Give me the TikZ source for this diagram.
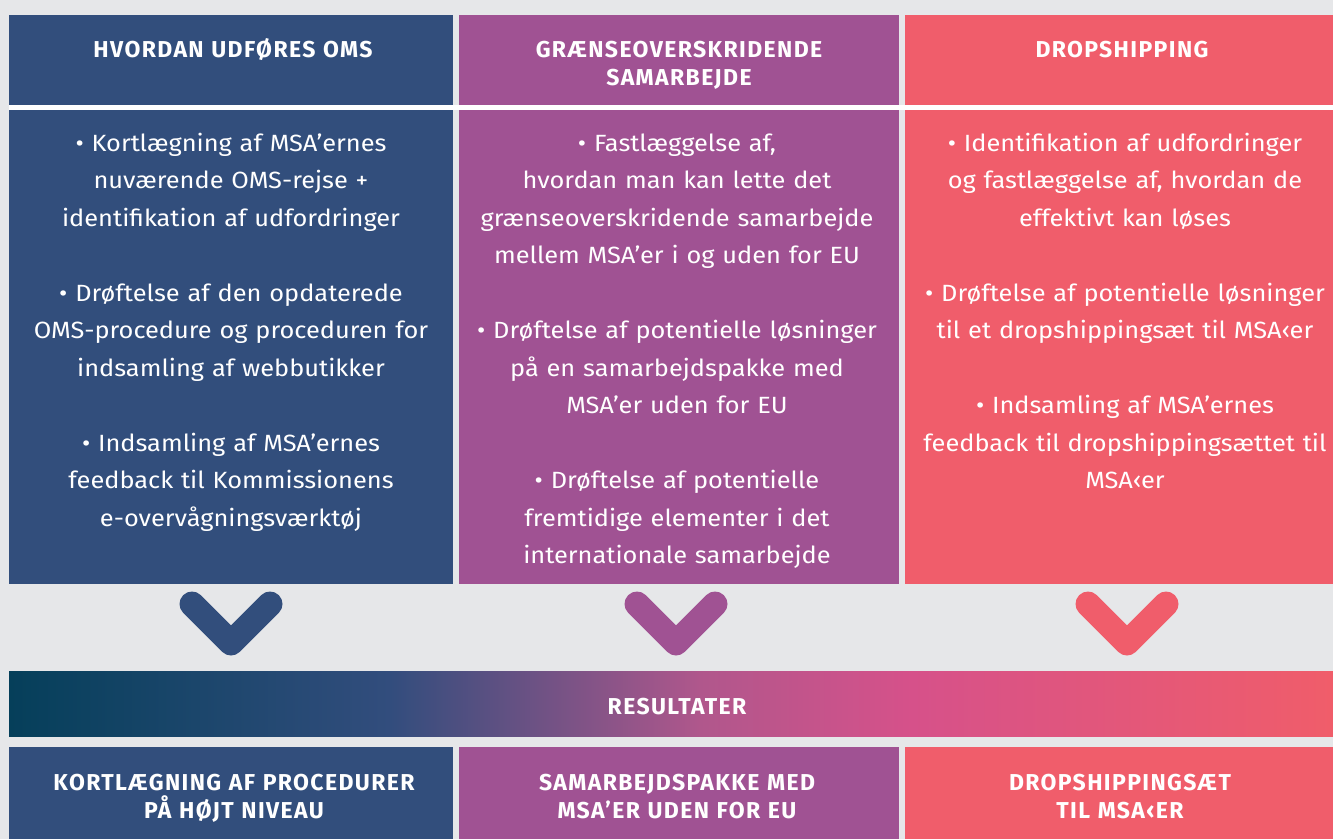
\documentclass[tikz,border=0pt]{standalone}
\usepackage{fontspec}
\setmainfont{Fira Sans}
\definecolor{bg}{HTML}{E6E7E9}
\definecolor{cblue}{HTML}{324E7C}
\definecolor{cpurple}{HTML}{A05293}
\definecolor{ccoral}{HTML}{F05D6B}
\definecolor{ga}{HTML}{053F5A}
\definecolor{gb}{HTML}{324D7D}
\definecolor{gc}{HTML}{B0578C}
\definecolor{gd}{HTML}{D6518A}
\definecolor{ge}{HTML}{F05D6A}
\pgfdeclarehorizontalshading{resgrad}{100bp}{color(0bp)=(ga); color(25bp)=(ga); color(39.39bp)=(gb); color(51.1bp)=(gc); color(59.06bp)=(gd); color(75bp)=(ge); color(100bp)=(ge)}
\tikzset{
  panel/.style={draw=none, inner sep=0pt, outer sep=0pt, anchor=north west},
  hdr/.style={text=white, font=\fontsize{23}{28.7}\selectfont\bfseries\addfontfeature{LetterSpace=6}, text width=440pt, align=center, inner sep=0pt, anchor=base},
  body/.style={text=white, font=\fontsize{23.5}{37.5}\selectfont\addfontfeature{FakeStretch=1.08}, text width=440pt, align=center, inner sep=0pt, anchor=base},
  chev/.style={line width=25pt, line cap=round, line join=round}
}
\begin{document}
\begin{tikzpicture}[x=1pt,y=-1pt]
\fill[bg] (0,0) rectangle (1333,839);
\useasboundingbox (0,0) rectangle (1333,839);
% header panels
\node[panel, fill=cblue, minimum width=444pt, minimum height=90pt] (h1) at (9,15) {};
\node[panel, fill=cpurple, minimum width=440pt, minimum height=90pt] (h2) at (459,15) {};
\node[panel, fill=ccoral, minimum width=428pt, minimum height=90pt] (h3) at (905,15) {};
% body panels
\node[panel, fill=cblue, minimum width=444pt, minimum height=474pt] (p1) at (9,110) {};
\node[panel, fill=cpurple, minimum width=440pt, minimum height=474pt] (p2) at (459,110) {};
\node[panel, fill=ccoral, minimum width=428pt, minimum height=474pt] (p3) at (905,110) {};
% white separator
\fill[white] (9,105) rectangle (1333,110);
% header texts
\node[hdr] (h1t) at (233,57) {HVORDAN UDFØRES OMS};
\node[hdr] (h2t) at (679,57) {GRÆNSEOVERSKRIDENDE\\SAMARBEJDE};
\node[hdr] (h3t) at (1122,57) {DROPSHIPPING};
% body texts
\node[body] (b1) at (231,151) {• Kortlægning af MSA’ernes\\ nuværende OMS-rejse +\\ identifikation af udfordringer\\[37.5pt]
• Drøftelse af den opdaterede\\ OMS-procedure og proceduren for\\ indsamling af webbutikker\\[37.5pt]
• Indsamling af MSA’ernes\\ feedback til Kommissionens\\ e-overvågningsværktøj};
\node[body] (b2) at (677,151) {• Fastlæggelse af,\\ hvordan man kan lette det\\ grænseoverskridende samarbejde\\ mellem MSA’er i og uden for EU\\[37.5pt]
• Drøftelse af potentielle løsninger\\ på en samarbejdspakke med\\ MSA’er uden for EU\\[37.5pt]
• Drøftelse af potentielle\\ fremtidige elementer i det\\ internationale samarbejde};
\node[body] (b3) at (1125,151) {• Identifikation af udfordringer\\ og fastlæggelse af, hvordan de\\ effektivt kan løses\\[37.5pt]
• Drøftelse af potentielle løsninger\\ til et dropshippingsæt til MSA‹er\\[37.5pt]
• Indsamling af MSA’ernes\\ feedback til dropshippingsættet til\\ MSA‹er};
% chevrons
\draw[chev, cblue] (192,604) -- (231,643) -- (270,604);
\draw[chev, cpurple] (637,604) -- (676,643) -- (715,604);
\draw[chev, ccoral] (1088,604) -- (1127,643) -- (1166,604);
% gradient bar
\node[panel, shading=resgrad, minimum width=1324pt, minimum height=65pt] (bar) at (9,671) {};
\node[hdr] (bart) at (677,714) {RESULTATER};
% bottom panels
\node[panel, fill=cblue, minimum width=444pt, minimum height=92pt] (r1) at (9,747) {};
\node[panel, fill=cpurple, minimum width=440pt, minimum height=92pt] (r2) at (459,747) {};
\node[panel, fill=ccoral, minimum width=428pt, minimum height=92pt] (r3) at (905,747) {};
\node[hdr] (r1t) at (234,790) {KORTLÆGNING AF PROCEDURER\\PÅ HØJT NIVEAU};
\node[hdr] (r2t) at (677,790) {SAMARBEJDSPAKKE MED\\MSA’ER UDEN FOR EU};
\node[hdr] (r3t) at (1120,790) {DROPSHIPPINGSÆT\\TIL MSA‹ER};
\end{tikzpicture}
\end{document}
